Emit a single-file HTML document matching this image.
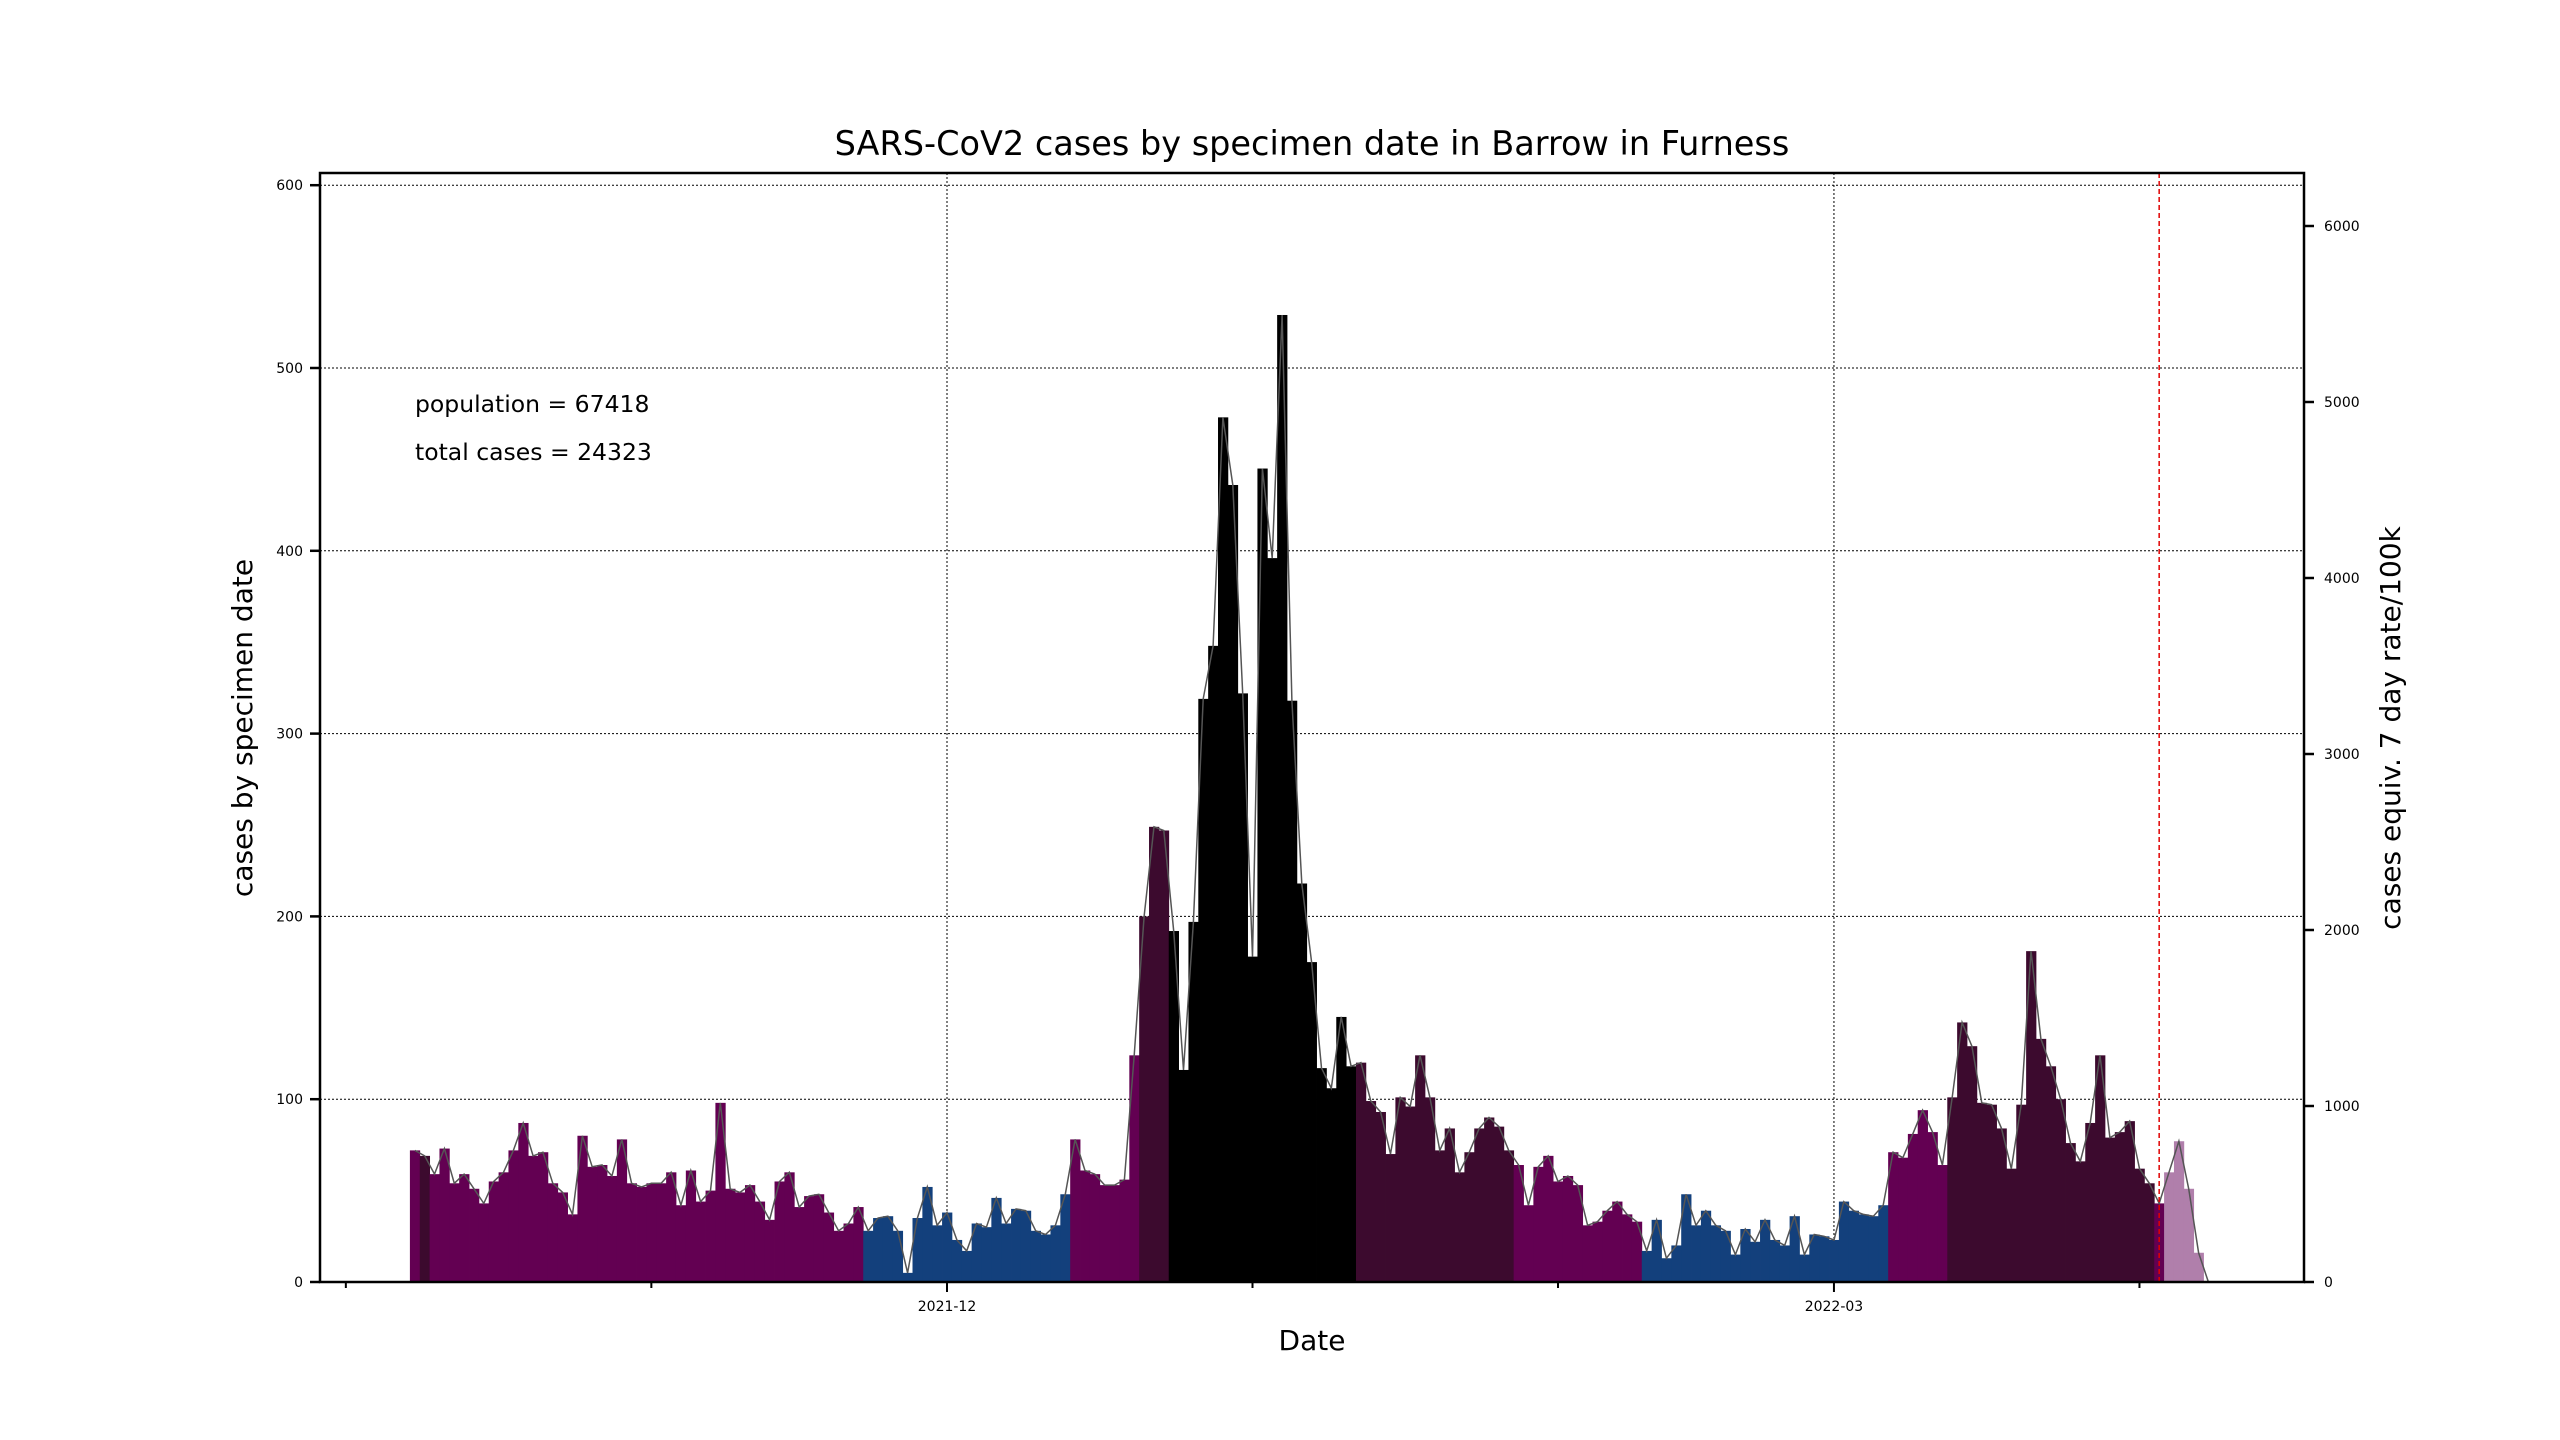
<!DOCTYPE html>
<html><head><meta charset="utf-8"><style>
html,body{margin:0;padding:0;background:#fff;}
svg{display:block;font-family:"DejaVu Sans","Liberation Sans",sans-serif;}
</style></head><body>
<svg id="chart" width="2560" height="1440" viewBox="0 0 2560 1440">
<rect x="0" y="0" width="2560" height="1440" fill="#fff"/>
<g id="grid"></g><g id="bars"></g><g id="line"></g><g id="axes"></g>
</svg>
<script>
// Daily cases, starting 2021-10-08 (index 0)
const startDate = "2021-10-08";
const cases = [72,69,59,73,54,59,51,43,55,60,72,87,69,71,54,49,37,80,63,64,58,78,54,52,54,54,60,42,61,44,50,98,51,49,53,44,34,55,60,41,47,48,38,28,32,41,
28,35,36,28,5,35,52,31,38,23,17,32,30,46,32,40,39,28,26,31,48,
78,61,59,53,53,56,124,
200,249,247,
192,116,197,319,348,473,436,322,178,445,396,529,318,218,175,117,106,145,118,
120,99,93,70,101,96,124,101,72,84,60,71,84,90,85,72,
64,42,63,69,55,58,53,31,33,39,44,37,33,
17,34,13,20,48,31,39,31,28,15,29,22,34,23,20,36,15,26,25,23,44,39,37,36,42,
71,68,81,94,82,64,
101,142,129,98,97,84,62,97,181,133,118,100,76,66,87,124,79,82,88,62,54,
43,
60,77,51,16,0];
// rate band per day: P=purple, D=dark, B=blue, K=black, L=light (incomplete)
const bands = ("P"+"D"+"P".repeat(44)+"B".repeat(21)+"P".repeat(7)+"D".repeat(3)+"K".repeat(19)+"D".repeat(16)+"P".repeat(13)+"B".repeat(25)+"P".repeat(6)+"D".repeat(21)+"P"+"L".repeat(5)).split("");
const leftTicks = [0,100,200,300,400,500,600];
const rightTicks = [0,1000,2000,3000,4000,5000,6000];
const monthTicks = ["2021-10-01","2021-11-01","2021-12-01","2022-01-01","2022-02-01","2022-03-01","2022-04-01"];
const monthLabels = ["","","2021-12","","","2022-03",""];
const cutoffDate = "2022-04-03";

const colors = {P:"#630052",D:"#3c0a2e",B:"#13407c",K:"#000000",L:"#b07fab"};
const NS="http://www.w3.org/2000/svg";
const L=320,R=2304,T=173,B=1282;
const dec1 = Date.UTC(2021,11,1);
function dayOf(s){const p=s.split("-");return (Date.UTC(+p[0],+p[1]-1,+p[2])-dec1)/86400000;}
const pxDay=9.855;
function xs(d){return 947+d*pxDay;}
function yl(v){return B-v*1.828;}
function yr(v){return B-v*0.176;}
const d0=dayOf(startDate);
function mk(tag,attrs,parent,text){const e=document.createElementNS(NS,tag);for(const k in attrs)e.setAttribute(k,attrs[k]);if(text!==undefined)e.textContent=text;parent.appendChild(e);return e;}
const g=id=>document.getElementById(id);

// grid
leftTicks.slice(1).forEach(v=>{
  const e=mk("line",{x1:L,x2:R,y1:yl(v),y2:yl(v),stroke:"#000","stroke-width":1,"stroke-dasharray":"2,2"},g("grid"));
  
  
});
monthTicks.forEach((m,i)=>{ if(monthLabels[i]){
  const e=mk("line",{x1:xs(dayOf(m)),x2:xs(dayOf(m)),y1:T,y2:B,stroke:"#000","stroke-width":1,"stroke-dasharray":"2,2"},g("grid"));
  
  
}});

// bars
cases.forEach((v,i)=>{
  const d=d0+i;
  const r=mk("rect",{x:xs(d)-pxDay/2,y:yl(v),width:pxDay+0.4,height:B-yl(v),fill:colors[bands[i]]},g("bars"));
  
  
});
// line
const pts=cases.map((v,i)=>xs(d0+i).toFixed(1)+","+yl(v).toFixed(1)).join(" ");
const pl=mk("polyline",{points:pts,fill:"none",stroke:"#555","stroke-width":1.5},g("line"));


// cutoff
const cx=xs(dayOf(cutoffDate));
const cl=mk("line",{x1:cx,x2:cx,y1:T,y2:B,stroke:"#e00000","stroke-width":1.5,"stroke-dasharray":"5,3"},g("line"));



// axes frame
const fr=mk("rect",{x:L,y:T,width:R-L,height:B-T,fill:"none",stroke:"#000","stroke-width":2.5},g("axes"));


leftTicks.forEach(v=>{
  mk("line",{x1:L-10,x2:L,y1:yl(v),y2:yl(v),stroke:"#000","stroke-width":2.5},g("axes"));
  const t=mk("text",{x:L-17,y:yl(v)+5,"font-size":14,"text-anchor":"end"},g("axes"),String(v));
  
  
});
rightTicks.forEach(v=>{
  mk("line",{x1:R,x2:R+10,y1:yr(v),y2:yr(v),stroke:"#000","stroke-width":2.5},g("axes"));
  const t=mk("text",{x:R+20,y:yr(v)+5,"font-size":14},g("axes"),String(v));
  
  
});
monthTicks.forEach((m,i)=>{
  const x=xs(dayOf(m));
  const len=monthLabels[i]?10:6;
  mk("line",{x1:x,x2:x,y1:B,y2:B+len,stroke:"#000","stroke-width":2},g("axes"));
  if(monthLabels[i]){
    const t=mk("text",{x:x,y:B+29,"font-size":14,"text-anchor":"middle"},g("axes"),monthLabels[i]);
    
    
  }
});
</script>
<svg style="position:absolute;left:0;top:0" width="2560" height="1440">
<text x="1312" y="155" font-size="33.5" text-anchor="middle" font-family="DejaVu Sans, Liberation Sans, sans-serif">SARS-CoV2 cases by specimen date in Barrow in Furness</text>
<text x="1312" y="1350" font-size="28" text-anchor="middle" font-family="DejaVu Sans, Liberation Sans, sans-serif">Date</text>
<text transform="translate(252,728) rotate(-90)" font-size="28" text-anchor="middle" font-family="DejaVu Sans, Liberation Sans, sans-serif">cases by specimen date</text>
<text transform="translate(2400,728) rotate(-90)" font-size="28" text-anchor="middle" font-family="DejaVu Sans, Liberation Sans, sans-serif">cases equiv. 7 day rate/100k</text>
<text x="415" y="412" font-size="23.5" font-family="DejaVu Sans, Liberation Sans, sans-serif">population = 67418</text>
<text x="415" y="460" font-size="23.5" font-family="DejaVu Sans, Liberation Sans, sans-serif">total cases = 24323</text>
</svg>
</body></html>
